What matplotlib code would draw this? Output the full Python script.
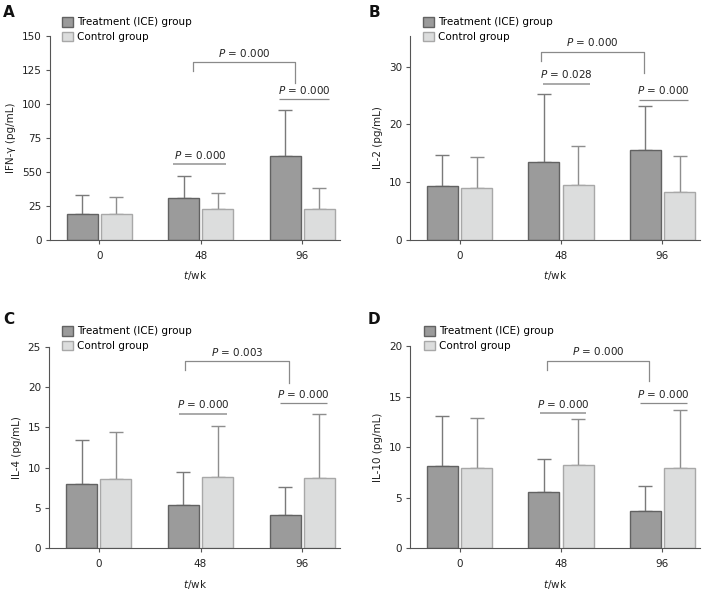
import matplotlib
matplotlib.use("Agg")
import matplotlib.pyplot as plt
import numpy as np

plt.rcParams['font.family'] = ['DejaVu Sans']
plt.rcParams['font.size'] = 7.5

weeks = ["0", "48", "96"]
series_names = ["Treatment (ICE) group", "Control group"]

# Panel A: IFN-gamma
a_treat = [19.0, 30.6, 62.0]
a_treat_sd = [14.0, 16.7, 33.8]
a_ctrl = [19.0, 22.5, 22.5]
a_ctrl_sd = [12.4, 11.8, 15.5]
a_ticks = [0, 25, 50, 75, 100, 125, 150]
a_ticklabels = ["0", "25", "550", "75", "100", "125", "150"]

# Panel B: IL-2
b_treat = [9.35, 13.45, 15.6]
b_treat_sd = [5.3, 11.9, 7.6]
b_ctrl = [9.05, 9.45, 8.3]
b_ctrl_sd = [5.35, 6.85, 6.3]
b_ticks = [0, 10, 20, 30]

# Panel C: IL-4
c_treat = [7.95, 5.35, 4.1]
c_treat_sd = [5.45, 4.05, 3.55]
c_ctrl = [8.65, 8.9, 8.7]
c_ctrl_sd = [5.8, 6.3, 7.9]
c_ticks = [0, 5, 10, 15, 20, 25]

# Panel D: IL-10
d_treat = [8.15, 5.6, 3.66]
d_treat_sd = [4.95, 3.2, 2.45]
d_ctrl = [7.98, 8.28, 7.98]
d_ctrl_sd = [4.9, 4.5, 5.7]
d_ticks = [0, 5, 10, 15, 20]

p_values = {
    "A": ("0.000", "0.000", "0.000"),
    "B": ("0.028", "0.000", "0.000"),
    "C": ("0.000", "0.000", "0.003"),
    "D": ("0.000", "0.000", "0.000"),
}

TREAT_FILL = "#9b9b9b"
TREAT_EDGE = "#626262"
CTRL_FILL = "#dcdddd"
CTRL_EDGE = "#a8a8a8"
AXIS_COL = "#555555"

fig = plt.figure(figsize=(7.03, 5.93), dpi=100)
W, H = 703, 593

def ax_rect(left, top, right, bottom):
    return [left / W, 1 - bottom / H, (right - left) / W, (bottom - top) / H]

panels = [
    dict(key="A", rect=ax_rect(50, 36, 340, 240), ylim=(0, 150), treat=a_treat, tsd=a_treat_sd,
         ctrl=a_ctrl, csd=a_ctrl_sd, ticks=a_ticks, ticklabels=a_ticklabels,
         ylabel="IFN-\u03b3 (pg/mL)",
         line48=(0.73, 1.25, 55.7), line96=(1.77, 2.26, 103.4),
         bracket=(0.92, 1.93, 130.6, 124.3, 115.2),
         letter=(3, 5), leg=(62, 17)),
    dict(key="B", rect=ax_rect(410.3, 36, 700, 240), ylim=(0, 35.3), treat=b_treat, tsd=b_treat_sd,
         ctrl=b_ctrl, csd=b_ctrl_sd, ticks=b_ticks, ticklabels=[str(t) for t in b_ticks],
         ylabel="IL-2 (pg/mL)",
         line48=(0.82, 1.29, 27.0), line96=(1.77, 2.25, 24.3),
         bracket=(0.80, 1.82, 32.6, 31.0, 28.9),
         letter=(369, 5), leg=(422.7, 17)),
    dict(key="C", rect=ax_rect(49.3, 346.7, 340, 548.3), ylim=(0, 25), treat=c_treat, tsd=c_treat_sd,
         ctrl=c_ctrl, csd=c_ctrl_sd, ticks=c_ticks, ticklabels=[str(t) for t in c_ticks],
         ylabel="IL-4 (pg/mL)",
         line48=(0.79, 1.26, 16.7), line96=(1.78, 2.24, 18.0),
         bracket=(0.85, 1.87, 23.2, 22.1, 20.5),
         letter=(3, 312), leg=(61.7, 326)),
    dict(key="D", rect=ax_rect(410.3, 346, 700, 548.3), ylim=(0, 20), treat=d_treat, tsd=d_treat_sd,
         ctrl=d_ctrl, csd=d_ctrl_sd, ticks=d_ticks, ticklabels=[str(t) for t in d_ticks],
         ylabel="IL-10 (pg/mL)",
         line48=(0.79, 1.25, 13.37), line96=(1.78, 2.24, 14.36),
         bracket=(0.86, 1.87, 18.55, 17.65, 16.5),
         letter=(368, 312), leg=(423.7, 326)),
]

x = np.arange(len(weeks))
bw = 0.305
off = 0.168

def ptxt(v):
    return "$\\it{P}$ = " + v

for p in panels:
    ax = fig.add_axes(p["rect"])
    b1 = ax.bar(x - off, p["treat"], bw, color=TREAT_FILL, edgecolor=TREAT_EDGE, linewidth=1.0,
                label=series_names[0], zorder=2)
    b2 = ax.bar(x + off, p["ctrl"], bw, color=CTRL_FILL, edgecolor=CTRL_EDGE, linewidth=1.0,
                label=series_names[1], zorder=2)
    ax.errorbar(x - off, p["treat"], yerr=[np.zeros(3), p["tsd"]], fmt="none",
                ecolor="#7a7a7a", elinewidth=1.0, capsize=5, capthick=1.0, zorder=1)
    ax.errorbar(x + off, p["ctrl"], yerr=[np.zeros(3), p["csd"]], fmt="none",
                ecolor="#8e8e8e", elinewidth=1.0, capsize=5, capthick=1.0, zorder=1)

    ax.set_xlim(-0.485, 2.37)
    ax.set_ylim(*p["ylim"])
    ax.set_xticks(x)
    ax.set_xticklabels(weeks)
    ax.set_yticks(p["ticks"])
    ax.set_yticklabels(p["ticklabels"])
    for s in ["top", "right"]:
        ax.spines[s].set_visible(False)
    for s in ["left", "bottom"]:
        ax.spines[s].set_color(AXIS_COL)
        ax.spines[s].set_linewidth(0.8)
    ax.tick_params(axis="both", colors=AXIS_COL, length=3, width=0.8, labelcolor="#222222",
                   labelsize=7.5, pad=3)
    ax.tick_params(axis="x", pad=5)
    ax.set_ylabel(p["ylabel"], fontsize=7.5, color="#222222", labelpad=4)
    ax.set_xlabel("$\\it{t}$/wk", fontsize=7.5, color="#222222", labelpad=6)

    t48, t96, tbr = p_values[p["key"]]
    x0, x1, yl = p["line48"]
    ax.plot([x0, x1], [yl, yl], color="#a9a9a9", lw=1.4, solid_capstyle="butt")
    ax.annotate(ptxt(t48), xy=((x0 + x1) / 2, yl), xytext=(0, 2.5), textcoords="offset points",
                ha="center", va="bottom", fontsize=7.5, color="#222222")
    x0, x1, yl = p["line96"]
    ax.plot([x0, x1], [yl, yl], color="#8a8a8a", lw=0.9, solid_capstyle="butt")
    ax.annotate(ptxt(t96), xy=((x0 + x1) / 2, yl), xytext=(0, 2.5), textcoords="offset points",
                ha="center", va="bottom", fontsize=7.5, color="#222222")
    bx0, bx1, btop, bl, br = p["bracket"]
    ax.plot([bx0, bx0, bx1, bx1], [bl, btop, btop, br], color="#8a8a8a", lw=0.9)
    ax.annotate(ptxt(tbr), xy=((bx0 + bx1) / 2, btop), xytext=(0, 2.5), textcoords="offset points",
                ha="center", va="bottom", fontsize=7.5, color="#222222", annotation_clip=False)
    for ln in ax.lines[-3:]:
        ln.set_clip_on(False)

    lx, ly = p["leg"]
    ax.legend(handles=[b1, b2], loc="upper left", bbox_to_anchor=(lx / W, 1 - ly / H),
              bbox_transform=fig.transFigure, frameon=False, borderpad=0, borderaxespad=0,
              handlelength=1.05, handleheight=1.05, handletextpad=0.4, labelspacing=0.42,
              fontsize=7.5)

    fig.text(p["letter"][0] / W, 1 - p["letter"][1] / H, p["key"], fontsize=11,
             fontweight="bold", ha="left", va="top", color="#111111")

fig.savefig("out.png", dpi=100)
